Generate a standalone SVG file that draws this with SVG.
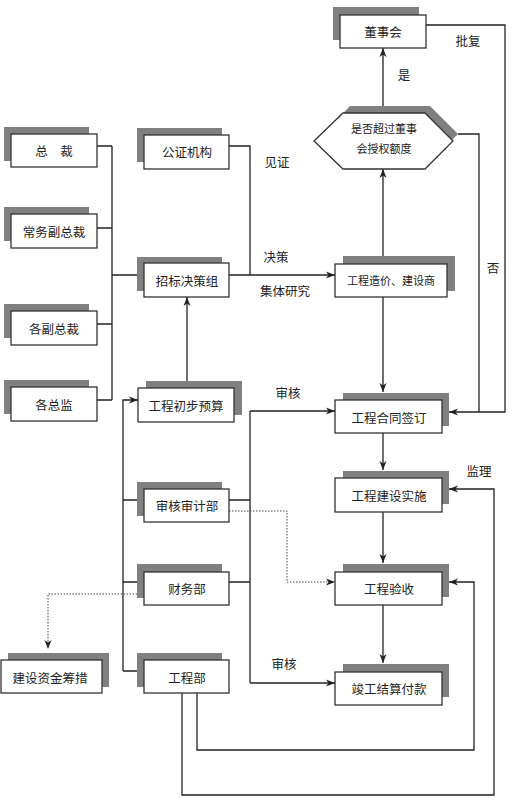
<svg xmlns="http://www.w3.org/2000/svg" width="512" height="800" viewBox="0 0 512 800">
<defs>
<style>
.sh{fill:#808080}
.bx{fill:#fff;stroke:#333;stroke-width:1.3}
.t{font-family:"Noto Sans CJK SC","Noto Sans",sans-serif;font-size:12.5px;fill:#222;text-anchor:middle;dominant-baseline:central}
.ts{font-size:11px}
.ln{fill:none;stroke:#222;stroke-width:1.3}
.dt{fill:none;stroke:#444;stroke-width:1;stroke-dasharray:1.5 1.5}
</style>
<marker id="ar" markerUnits="userSpaceOnUse" markerWidth="10" markerHeight="8" refX="9" refY="4" orient="auto">
<path d="M0,0.5 L9,4 L0,7.5 L2.5,4 z" fill="#222"/>
</marker>
</defs>
<rect width="512" height="800" fill="#fff"/>

<g id="connectors">
<path class="ln" d="M97,146 H112 M97,228 H112 M97,324 H112 M97,400 H112 M112,146 V400 M112,275 H137"/>
<path class="ln" d="M229,146 H250 V275 M229,275 H250"/>
<path class="ln" d="M250,275 H335" marker-end="url(#ar)"/>
<path class="ln" d="M187,381 V297" marker-end="url(#ar)"/>
<path class="ln" d="M123,671 V400 H138" marker-end="url(#ar)"/>
<path class="ln" d="M123,500 H137 M123,582 H137 M123,671 H137"/>
<path class="ln" d="M229,500 H250 M229,582 H250 M250,411 V683"/>
<path class="ln" d="M250,411 H335" marker-end="url(#ar)"/>
<path class="ln" d="M250,683 H335" marker-end="url(#ar)"/>
<path class="dt" d="M229,511 H287 V582 H335" marker-end="url(#ar)"/>
<path class="dt" d="M137,594 H48 V649" marker-end="url(#ar)"/>
<path class="ln" d="M426,25 H505 V412 H449" marker-end="url(#ar)"/>
<path class="ln" d="M458,134 H479 V412"/>
<path class="ln" d="M383,256 V169" marker-end="url(#ar)"/>
<path class="ln" d="M383,106 V48" marker-end="url(#ar)"/>
<path class="ln" d="M383,297 V392" marker-end="url(#ar)"/>
<path class="ln" d="M383,433 V470" marker-end="url(#ar)"/>
<path class="ln" d="M383,512 V563" marker-end="url(#ar)"/>
<path class="ln" d="M383,605 V663" marker-end="url(#ar)"/>
<path class="ln" d="M197,693 V750 H474 V582 H449" marker-end="url(#ar)"/>
<path class="ln" d="M182,693 V795 H494 V489 H449" marker-end="url(#ar)"/>
</g>

<g id="n-zongcai"><rect class="sh" x="4" y="127" width="85" height="34"/><rect class="bx" x="11" y="134" width="86" height="33"/><text class="t" x="54" y="150">总　裁</text></g>
<g id="n-changwu"><rect class="sh" x="4" y="207" width="85" height="34"/><rect class="bx" x="11" y="214" width="86" height="34"/><text class="t" x="54" y="231">常务副总裁</text></g>
<g id="n-gefu"><rect class="sh" x="4" y="304" width="85" height="34"/><rect class="bx" x="11" y="311" width="86" height="34"/><text class="t" x="54" y="328">各副总裁</text></g>
<g id="n-gezongjian"><rect class="sh" x="4" y="380" width="85" height="34"/><rect class="bx" x="11" y="387" width="86" height="34"/><text class="t" x="54" y="404">各总监</text></g>

<g id="n-gongzheng"><rect class="sh" x="137" y="128" width="85" height="34"/><rect class="bx" x="144" y="135" width="85" height="34"/><text class="t" x="187" y="151">公证机构</text></g>
<g id="n-zhaobiao"><rect class="sh" x="137" y="257" width="85" height="34"/><rect class="bx" x="144" y="263" width="85" height="34"/><text class="t" x="187" y="280">招标决策组</text></g>
<g id="n-yusuan"><rect class="sh" x="146" y="381" width="96" height="34"/><rect class="bx" x="138" y="388" width="96" height="34"/><text class="t" x="186" y="405">工程初步预算</text></g>
<g id="n-shenji"><rect class="sh" x="137" y="482" width="85" height="34"/><rect class="bx" x="144" y="489" width="85" height="33"/><text class="t" x="187" y="505">审核审计部</text></g>
<g id="n-caiwu"><rect class="sh" x="137" y="564" width="85" height="34"/><rect class="bx" x="144" y="572" width="85" height="33"/><text class="t" x="187" y="588">财务部</text></g>
<g id="n-gongcheng"><rect class="sh" x="137" y="653" width="85" height="34"/><rect class="bx" x="144" y="660" width="85" height="33"/><text class="t" x="187" y="677">工程部</text></g>
<g id="n-zijin"><rect class="sh" x="8" y="653" width="101" height="34"/><rect class="bx" x="1" y="660" width="101" height="33"/><text class="t" x="50" y="677">建设资金筹措</text></g>

<g id="n-dongshihui"><rect class="sh" x="333" y="7" width="86" height="33"/><rect class="bx" x="340" y="15" width="86" height="33"/><text class="t" x="383" y="31">董事会</text></g>
<g id="n-decision"><polygon class="sh" points="330,127 350,106 430,106 458,134 445,147"/><polygon class="bx" points="314,141 343,113 425,113 453,141 425,169 343,169"/><text class="t ts" x="384" y="128">是否超过董事</text><text class="t ts" x="384" y="148">会授权额度</text></g>
<g id="n-zaojia"><rect class="sh" x="343" y="256" width="112" height="35"/><rect class="bx" x="335" y="264" width="112" height="33"/><text class="t ts" x="391" y="280">工程造价、建设商</text></g>
<g id="n-hetong"><rect class="sh" x="343" y="393" width="106" height="33"/><rect class="bx" x="335" y="400" width="107" height="33"/><text class="t" x="389" y="417">工程合同签订</text></g>
<g id="n-shishi"><rect class="sh" x="343" y="471" width="106" height="33"/><rect class="bx" x="335" y="478" width="107" height="34"/><text class="t" x="389" y="495">工程建设实施</text></g>
<g id="n-yanshou"><rect class="sh" x="343" y="564" width="106" height="33"/><rect class="bx" x="335" y="572" width="107" height="33"/><text class="t" x="389" y="588">工程验收</text></g>
<g id="n-jiesuan"><rect class="sh" x="343" y="664" width="106" height="33"/><rect class="bx" x="335" y="672" width="107" height="33"/><text class="t" x="389" y="688">竣工结算付款</text></g>

<g id="labels">
<text class="t" x="277" y="161">见证</text>
<text class="t" x="276" y="256">决策</text>
<text class="t" x="285" y="290">集体研究</text>
<text class="t" x="288" y="392">审核</text>
<text class="t" x="284" y="663">审核</text>
<text class="t" x="404" y="74">是</text>
<text class="t" x="468" y="40">批复</text>
<text class="t" x="493" y="267">否</text>
<text class="t" x="479" y="470">监理</text>
</g>
</svg>
